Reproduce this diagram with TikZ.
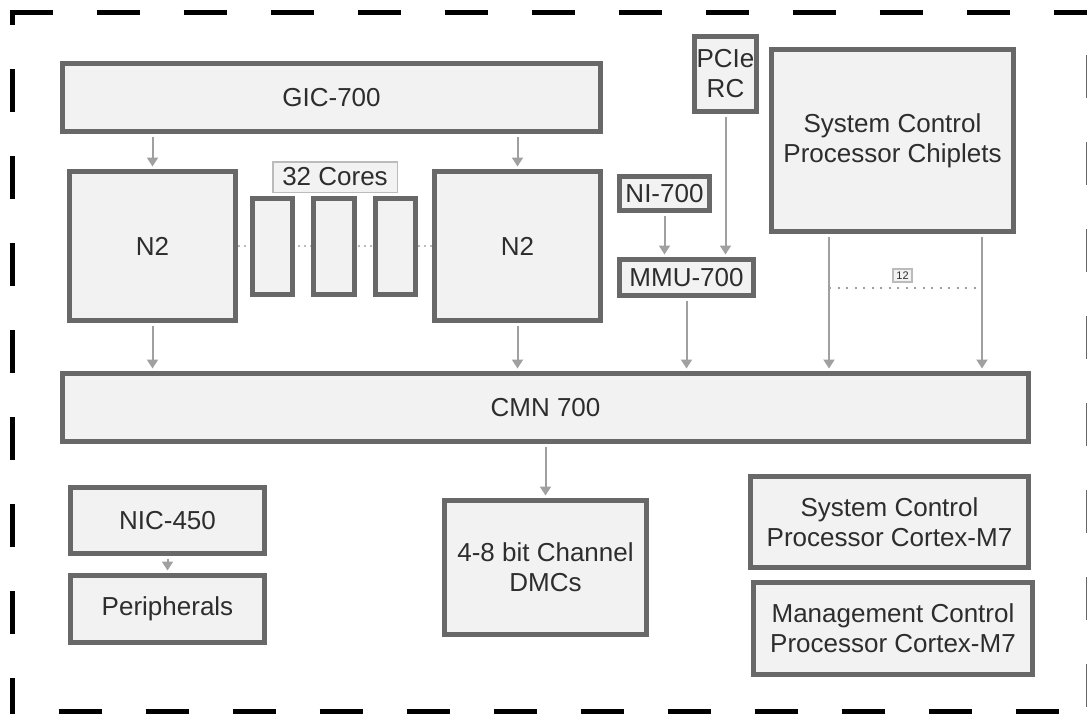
\documentclass[tikz,border=0pt]{standalone}
\usepackage{fontspec}
\setmainfont{Liberation Sans}
\usetikzlibrary{arrows.meta}
\definecolor{boxline}{RGB}{104,104,104}
\definecolor{boxfill}{RGB}{242,242,242}
\definecolor{wire}{RGB}{160,160,160}
\definecolor{txt}{RGB}{45,45,45}

\begin{document}
\begin{tikzpicture}[x=1pt, y=-1pt, >={Triangle[length=9pt,width=11pt]},
  blk/.style={draw=boxline, fill=boxfill, line width=5pt, text=txt, align=center,
    font=\fontsize{26}{30}\selectfont, inner sep=0pt},
  tag/.style={draw=boxline!45, fill=boxfill, line width=1.5pt, text=txt, inner sep=0pt},
  link/.style={->, wire, line width=2pt, shorten <=2.5pt, shorten >=2.5pt},
  dots/.style={wire, line width=2pt, dash pattern=on 2pt off 6.5pt}]
  \useasboundingbox (0,0) rectangle (1087,715);
  % frame
  \draw[line width=5pt, dash pattern=on 43pt off 44pt] (9.5,12) -- (1090,12);
  \draw[line width=5pt, dash pattern=on 43pt off 44pt, dash phase=30pt] (12,12) -- (12,714);
  \draw[line width=5pt, dash pattern=on 43pt off 44pt, dash phase=38pt] (9.5,711.5) -- (1090,711.5);
  \draw[line width=5pt, black!60, dash pattern=on 43pt off 44pt, dash phase=44pt] (1088.5,12) -- (1088.5,711.5);
  % blocks
  \node[blk, minimum width=538pt, minimum height=68pt] (gic) at (331.5,97.5) {GIC-700};
  \node[blk, minimum width=166pt, minimum height=149pt] (n2a) at (152.5,246) {N2};
  \node[blk, minimum width=166pt, minimum height=149pt] (n2b) at (517.5,246) {N2};
  \node[blk, minimum width=62pt, minimum height=75pt] (pcie) at (725.5,74) {PCIe\\RC};
  \node[blk, minimum width=90pt, minimum height=34pt] (ni) at (664.5,193.5) {NI-700};
  \node[blk, minimum width=134pt, minimum height=36pt] (mmu) at (686.5,277.5) {MMU-700};
  \node[blk, minimum width=242pt, minimum height=182pt] (scpc) at (892.5,140.5) {System Control\\Processor Chiplets};
  \node[blk, minimum width=966pt, minimum height=68pt] (cmn) at (545.5,407.5) {CMN 700};
  \node[blk, minimum width=202pt, minimum height=134pt] (dmc) at (545.5,567.5) {4-8 bit Channel\\DMCs};
  \node[blk, minimum width=194pt, minimum height=66pt] (nic) at (167.5,520.5) {NIC-450};
  \node[blk, minimum width=194pt, minimum height=67pt] (per) at (167.5,609) {Peripherals};
  \node[blk, minimum width=278pt, minimum height=91pt] (scpm) at (889.5,522) {System Control\\Processor Cortex-M7};
  \node[blk, minimum width=279pt, minimum height=92pt] (mcpm) at (893,628.5) {Management Control\\Processor Cortex-M7};
  % cores
  \draw[dots, dash pattern=on 2pt off 4pt, wire!70] (n2a.east) -- (n2b.west);
  \node[blk, minimum width=40pt, minimum height=96pt] (c1) at (272.5,246.5) {};
  \node[blk, minimum width=41pt, minimum height=96pt] (c2) at (334,246.5) {};
  \node[blk, minimum width=40pt, minimum height=96pt] (c3) at (395.5,246.5) {};
  \node[tag, minimum width=124.5pt, minimum height=30.5pt, font=\fontsize{26}{30}\selectfont] (cores) at (335,177) {32 Cores};
  % links
  \draw[link] (gic.south -| n2a) -- (n2a.north);
  \draw[link] (gic.south -| n2b) -- (n2b.north);
  \draw[link] (n2a.south) -- (cmn.north -| n2a);
  \draw[link] (n2b.south) -- (cmn.north -| n2b);
  \draw[link] (ni.south) -- (mmu.north -| ni);
  \draw[link] (pcie.south) -- (mmu.north -| pcie);
  \draw[link] (mmu.south) -- (cmn.north -| mmu);
  \coordinate (sl) at (829,0);
  \coordinate (sr) at (982,0);
  \draw[link] (scpc.south -| sl) -- (cmn.north -| sl);
  \draw[link] (scpc.south -| sr) -- (cmn.north -| sr);
  \coordinate (dl) at (829,288);
  \coordinate (dr) at (982,288);
  \draw[dots] (dl) -- (dr);
  \node[tag, minimum width=19pt, minimum height=13pt, font=\fontsize{11}{12}\selectfont] (cnt) at (902.5,275.5) {12};
  \draw[link] (cmn.south -| dmc) -- (dmc.north);
  \draw[link] (nic.south) -- (per.north);
\end{tikzpicture}
\end{document}
